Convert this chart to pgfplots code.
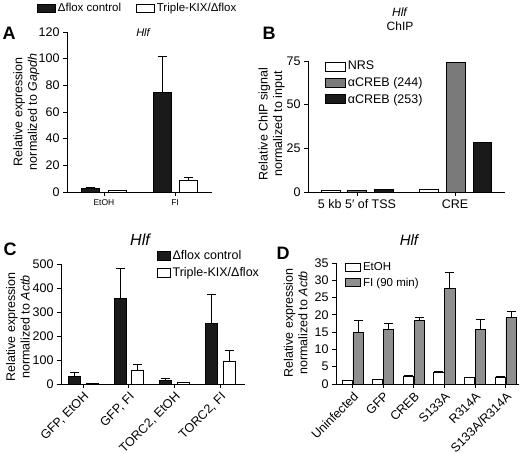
\documentclass[border=0pt]{standalone}
\usepackage{fontspec}
\setmainfont{Liberation Sans}
\usepackage{pgfplots}
\pgfplotsset{compat=1.18}
\definecolor{barblack}{HTML}{1A1A1A}
\definecolor{greyB}{HTML}{7A7A7A}
\definecolor{greyD}{HTML}{8F8F8F}
\pgfplotsset{
  panel/.style={
    scale only axis,
    axis lines=left,
    axis line style={-, line width=0.8pt},
    tick align=outside,
    major tick length=4pt,
    every tick/.style={line width=0.8pt, black},
    minor tick num=0,
    ybar,
    ymin=0,
    /pgf/number format/assume math mode=true,
    tick label style={font=\fontsize{12.5}{14}\selectfont},
    label style={font=\fontsize{12.5}{14.5}\selectfont, align=center},
    error bars/error bar style={line width=0.8pt, black},
    error bars/error mark options={rotate=90, mark size=4.5pt, line width=0.8pt, black},
    legend style={draw=none, fill=none, inner sep=0pt, row sep=2pt},
    legend cell align=left,
  },
  bb/.style={draw=black, line width=0.7pt, bar shift=0pt, error bars/y dir=plus, error bars/y explicit},
}
\begin{document}
\begin{tikzpicture}
\useasboundingbox (0,0) rectangle (520pt,454pt);

% ---------------- Panel A ----------------
\begin{axis}[panel,
  at={(67pt,262pt)}, anchor=south west,
  width=145pt, height=160pt,
  xmin=-0.52, xmax=1.52, ymax=120,
  bar width=0.254,
  xtick={0,1}, xticklabels={EtOH,FI},
  xticklabel style={font=\fontsize{8.5}{10}\selectfont},
  ytick={0,20,...,120},
  ylabel={Relative expression\\normalized to \textit{Gapdh}},
  ylabel style={at={(axis description cs:-0.28,0.5)}, anchor=center},
  legend columns=2,
  legend style={at={(axis description cs:-0.207,1.15)}, anchor=west,
    font=\fontsize{11.5}{13}\selectfont,
    /tikz/every even column/.append style={column sep=13pt}},
  legend image code/.code={\draw[#1, line width=0.7pt] (0pt,-4pt) rectangle (18pt,4pt);},
]
\addplot[bb, fill=barblack] coordinates {(-0.19,2.5) +- (0,0.7) (0.82,74.4) +- (0,27.3)};
\addplot[bb, fill=white] coordinates {(0.19,1.0) +- (0,0.2) (1.19,9.0) +- (0,1.8)};
\legend{Δflox control, Triple-KIX/Δflox}
\end{axis}

% ---------------- Panel B ----------------
\begin{axis}[panel,
  at={(308pt,262pt)}, anchor=south west,
  width=197pt, height=131pt,
  xmin=-0.5, xmax=1.51, ymax=75,
  bar width=0.19,
  xtick={0,1}, xticklabels={5 kb 5′ of TSS, CRE},
  ytick={0,25,50,75},
  ylabel={Relative ChIP signal\\normalized to input},
  ylabel style={at={(axis description cs:-0.185,0.52)}, anchor=center},
  legend style={at={(axis description cs:0.086,1.015)}, anchor=north west,
    font=\fontsize{12.5}{14.5}\selectfont},
  legend image code/.code={\draw[#1, line width=0.7pt] (0pt,-4.5pt) rectangle (20pt,4.5pt);},
]
\addplot[draw=black, line width=0.7pt, bar shift=0pt, fill=white] coordinates {(-0.27,0.8) (0.735,1.3)};
\addplot[draw=black, line width=0.7pt, bar shift=0pt, fill=greyB] coordinates {(0,0.8) (1.01,74)};
\addplot[draw=black, line width=0.7pt, bar shift=0pt, fill=barblack] coordinates {(0.275,1.6) (1.28,28.5)};
\legend{NRS, αCREB (244), αCREB (253)}
\end{axis}

% ---------------- Panel C ----------------
\begin{axis}[panel,
  at={(61pt,70pt)}, anchor=south west,
  width=184pt, height=120pt,
  xmin=-0.48, xmax=3.54, ymax=500,
  bar width=0.26,
  xtick={0,1,2,3}, xticklabels={{GFP, EtOH},{GFP, FI},{TORC2, EtOH},{TORC2, FI}},
  xticklabel style={rotate=45, anchor=north east, inner sep=2pt},
  ytick={0,100,...,500},
  ylabel={Relative expression\\normalized to \textit{Actb}},
  ylabel style={at={(axis description cs:-0.234,0.475)}, anchor=center},
  legend style={at={(axis description cs:0.52,1.13)}, anchor=north west,
    font=\fontsize{12.5}{14.5}\selectfont},
  legend image code/.code={\draw[#1, line width=0.7pt] (0pt,-4.5pt) rectangle (13pt,4.5pt);},
]
\addplot[bb, fill=barblack] coordinates {(-0.18,31) +- (0,18) (0.81,357) +- (0,125) (1.8,15) +- (0,9) (2.81,253) +- (0,121)};
\addplot[bb, fill=white] coordinates {(0.2,3) +- (0,1) (1.19,56) +- (0,24) (2.19,5) +- (0,3) (3.2,96) +- (0,43)};
\legend{Δflox control, Triple-KIX/Δflox}
\end{axis}

% ---------------- Panel D ----------------
\begin{axis}[panel,
  at={(336pt,70pt)}, anchor=south west,
  width=183pt, height=121pt,
  xmin=-0.54, xmax=5.44, ymax=35,
  bar width=0.33,
  xtick={0,...,5}, xticklabels={Uninfected,GFP,CREB,S133A,R314A,S133A/R314A},
  xticklabel style={rotate=45, anchor=north east, inner sep=2pt},
  ytick={0,5,...,35},
  ylabel={Relative expression\\normalized to \textit{Actb}},
  ylabel style={at={(axis description cs:-0.221,0.504)}, anchor=center},
  legend style={at={(axis description cs:0.05,1.025)}, anchor=north west,
    font=\fontsize{11.5}{13}\selectfont},
  legend image code/.code={\draw[#1, line width=0.7pt] (0pt,-4pt) rectangle (15pt,4pt);},
]
\addplot[bb, fill=white] coordinates {(-0.18,1.0) +- (0,0.1) (0.82,1.2) +- (0,0.15) (1.82,2.2) +- (0,0.15) (2.82,3.3) +- (0,0.3) (3.82,1.8) +- (0,0.25) (4.82,1.8) +- (0,0.3)};
\addplot[bb, fill=greyD] coordinates {(0.18,14.8) +- (0,3.7) (1.18,15.7) +- (0,1.8) (2.18,18.5) +- (0,0.8) (3.18,27.6) +- (0,4.7) (4.18,15.9) +- (0,2.8) (5.18,19.2) +- (0,1.7)};
\legend{EtOH, FI (90 min)}
\end{axis}

% titles
\node[font=\itshape\fontsize{11}{13}\selectfont] at (143pt,421pt) {Hlf};
\node[align=center, font=\fontsize{12}{13.5}\selectfont] at (400pt,435pt) {\textit{Hlf}\\ChIP};
\node[font=\itshape\fontsize{16}{18}\selectfont] at (140pt,214pt) {Hlf};
\node[font=\itshape\fontsize{15}{17}\selectfont] at (409pt,214pt) {Hlf};
% panel letters
\node[font=\bfseries\fontsize{18}{20}\selectfont] at (9pt,421pt) {A};
\node[font=\bfseries\fontsize{18}{20}\selectfont] at (269pt,421pt) {B};
\node[font=\bfseries\fontsize{18}{20}\selectfont] at (10pt,205pt) {C};
\node[font=\bfseries\fontsize{18}{20}\selectfont] at (283pt,201pt) {D};
\end{tikzpicture}
\end{document}
